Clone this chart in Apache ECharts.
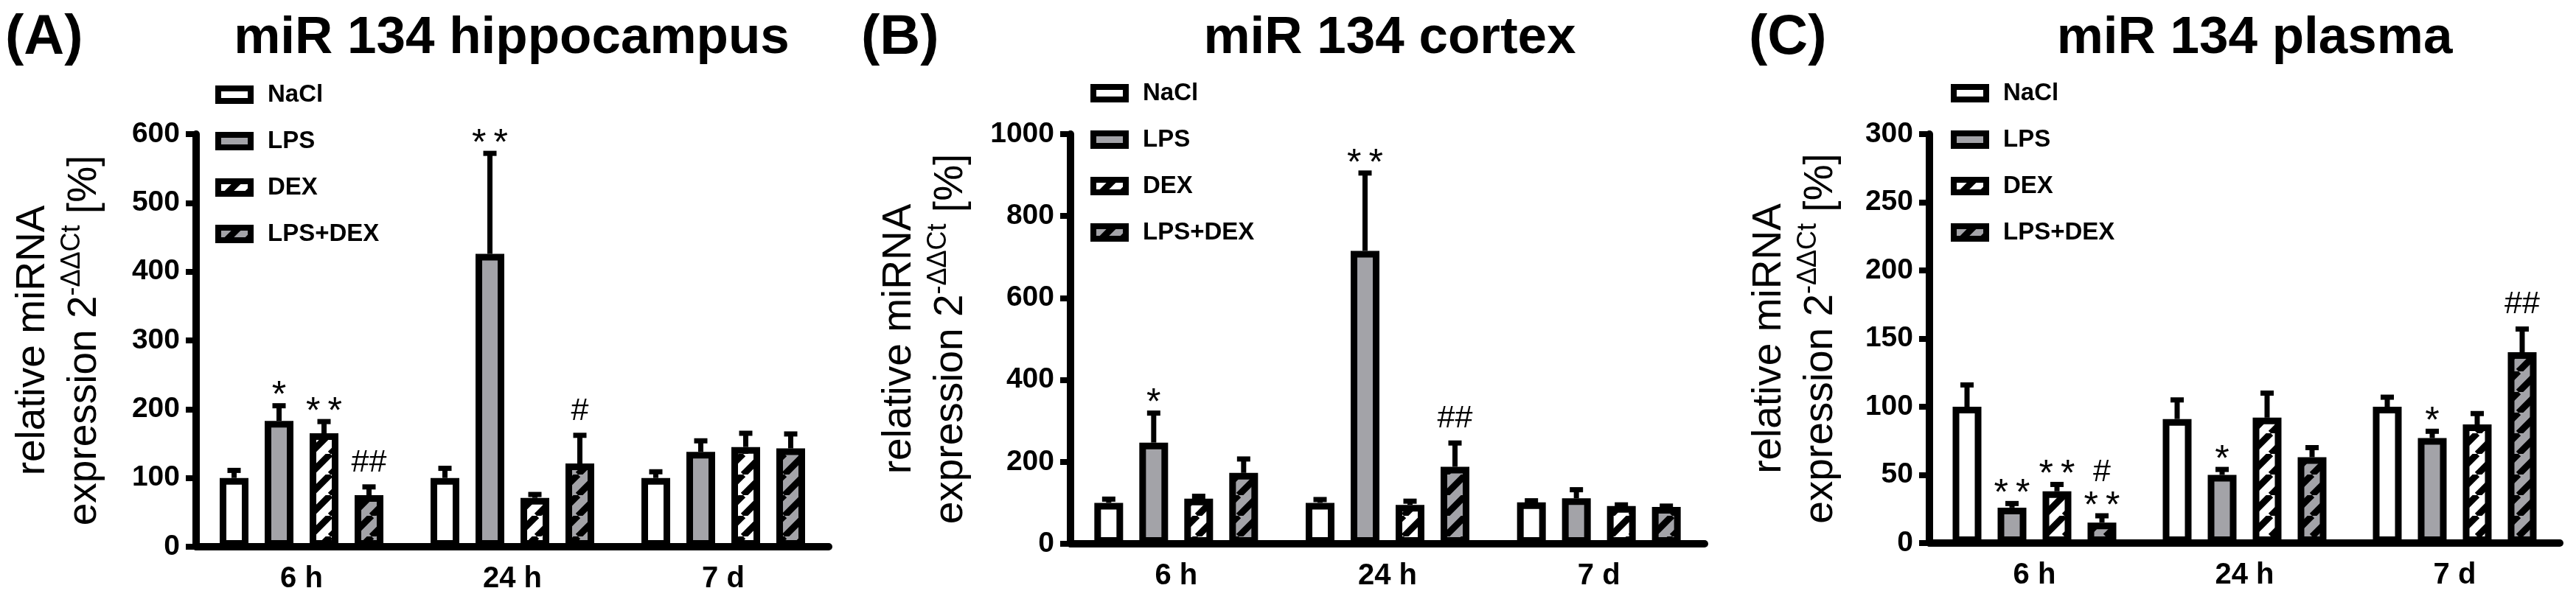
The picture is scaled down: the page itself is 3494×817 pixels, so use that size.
<!DOCTYPE html>
<html>
<head>
    <meta charset="utf-8">
    <title>miR 134</title>
    <script src="https://cdn.jsdelivr.net/npm/echarts@6/dist/echarts.min.js"></script>
    <style>
        html, body { margin: 0; padding: 0; background: #fff; }
        #chart { width: 3494px; height: 817px; }
    </style>
</head>
<body>
<div id="chart"></div>
<script>
    // categories
    var times = ['6 h', '24 h', '7 d'];
    var groups = ['NaCl', 'LPS', 'DEX', 'LPS+DEX'];

    // (A) hippocampus: mean and SEM per group
    var hipNaCl = [100, 100, 100], hipNaClErr = [11, 14, 9];
    var hipLPS = [183, 426, 138], hipLPSErr = [22, 146, 16];
    var hipDEX = [165, 71, 145], hipDEXErr = [17, 5, 20];
    var hipLPSDEX = [75, 121, 143], hipLPSDEXErr = [12, 41, 21];
    var hipStars = [['', '', ''], ['*', '**', ''], ['**', '', ''], ['', '', '']];
    var hipHash = [['', '', ''], ['', '', ''], ['', '', ''], ['##', '#', '']];

    // (B) cortex
    var ctxNaCl = [100, 100, 101], ctxNaClErr = [9, 8, 4];
    var ctxLPS = [247, 715, 111], ctxLPSErr = [72, 190, 21];
    var ctxDEX = [110, 95, 92], ctxDEXErr = [6, 9, 3];
    var ctxLPSDEX = [173, 188, 90], ctxLPSDEXErr = [34, 58, 2];
    var ctxStars = [['', '', ''], ['*', '**', ''], ['', '', ''], ['', '', '']];
    var ctxHash = [['', '', ''], ['', '', ''], ['', '', ''], ['', '##', '']];

    // (C) plasma
    var plaNaCl = [100, 91, 100], plaNaClErr = [16, 14, 7];
    var plaLPS = [26, 50, 77], plaLPSErr = [3, 4, 5];
    var plaDEX = [38, 92, 87], plaDEXErr = [5, 18, 8];
    var plaLPSDEX = [15, 63, 140], plaLPSDEXErr = [5, 7, 17];
    var plaStars = [['', '', ''], ['**', '*', '*'], ['**', '', ''], ['**', '', '']];
    var plaHash = [['', '', ''], ['', '', ''], ['', '', ''], ['#', '', '##']];

    // y axis ticks: min, max, step
    var hipTicks = [0, 600, 100];
    var ctxTicks = [0, 1000, 200];
    var plaTicks = [0, 300, 50];

    var FONT = '"Liberation Sans", Arial, sans-serif';
    var GRAY = '#a3a3a8';
    var BAR_W = 39, PITCH = 61;

    function stripes(bg) {
        var c = document.createElement('canvas');
        c.width = 28; c.height = 28;
        var g = c.getContext('2d');
        g.fillStyle = bg;
        g.fillRect(0, 0, 28, 28);
        g.strokeStyle = '#000';
        g.lineWidth = 9;
        g.beginPath();
        [-28, 0, 28].forEach(function (o) {
            g.moveTo(o, 28);
            g.lineTo(o + 28, 0);
        });
        g.stroke();
        return c;
    }

    var fills = [
        '#ffffff',
        GRAY,
        { image: stripes('#ffffff'), repeat: 'repeat' },
        { image: stripes(GRAY), repeat: 'repeat' }
    ];

    var panels = [
        { title: 'miR 134 hippocampus', letter: '(A)', letterX: 7, titleX: 694,
          grid: { left: 266, width: 858, top: 182, height: 560 }, ticks: hipTicks, nameGap: 116,
          means: [hipNaCl, hipLPS, hipDEX, hipLPSDEX], errs: [hipNaClErr, hipLPSErr, hipDEXErr, hipLPSDEXErr],
          stars: hipStars, hash: hipHash, legendLeft: 292, legendTop: 112 },
        { title: 'miR 134 cortex', letter: '(B)', letterX: 1168, titleX: 1885,
          grid: { left: 1452, width: 860, top: 182, height: 556 }, ticks: ctxTicks, nameGap: 127,
          means: [ctxNaCl, ctxLPS, ctxDEX, ctxLPSDEX], errs: [ctxNaClErr, ctxLPSErr, ctxDEXErr, ctxLPSDEXErr],
          stars: ctxStars, hash: ctxHash, legendLeft: 1479, legendTop: 110 },
        { title: 'miR 134 plasma', letter: '(C)', letterX: 2372, titleX: 3058,
          grid: { left: 2617, width: 855, top: 182, height: 555 }, ticks: plaTicks, nameGap: 112,
          means: [plaNaCl, plaLPS, plaDEX, plaLPSDEX], errs: [plaNaClErr, plaLPSErr, plaDEXErr, plaLPSDEXErr],
          stars: plaStars, hash: plaHash, legendLeft: 2646, legendTop: 110 }
    ];

    var option = {
        animation: false,
        backgroundColor: '#fff',
        grid: [], xAxis: [], yAxis: [], legend: [], series: [], graphic: []
    };

    panels.forEach(function (p, pi) {
        option.grid.push(p.grid);
        option.xAxis.push({
            type: 'category', gridIndex: pi, data: times,
            axisLine: { lineStyle: { color: '#000', width: 10 } },
            axisTick: { alignWithLabel: true, length: 15, lineStyle: { color: '#000', width: 7 } },
            axisLabel: { color: '#000', fontSize: 40, fontWeight: 'bold', fontFamily: FONT, margin: 24 }
        });
        option.yAxis.push({
            type: 'value', gridIndex: pi, min: p.ticks[0], max: p.ticks[1], interval: p.ticks[2],
            splitLine: { show: false },
            axisLine: { show: true, lineStyle: { color: '#000', width: 10 } },
            axisTick: { show: true, length: 14, lineStyle: { color: '#000', width: 8 } },
            axisLabel: { color: '#000', fontSize: 39, fontWeight: 'bold', fontFamily: FONT, margin: 22,
                formatter: function (v) { return String(v); } },
            name: 'relative miRNA\nexpression 2{s|-ΔΔCt} [%]',
            nameLocation: 'middle', nameRotate: 90, nameGap: p.nameGap,
            nameTextStyle: {
                color: '#000', fontSize: 55, fontFamily: FONT, lineHeight: 70,
                rich: { s: { fontSize: 36, fontFamily: FONT, color: '#000', lineHeight: 44, verticalAlign: 'top' } }
            }
        });
        option.legend.push({
            data: groups, orient: 'vertical', left: p.legendLeft, top: p.legendTop, padding: 0,
            icon: 'rect', itemWidth: 44, itemHeight: 17, itemGap: 30,
            selectedMode: false,
            itemStyle: { borderColor: '#000', borderWidth: 8 },
            textStyle: { color: '#000', fontSize: 33, fontWeight: 'bold', fontFamily: FONT, lineHeight: 24, padding: [0, 0, 0, 18] }
        });

        var rows = [];
        groups.forEach(function (name, g) {
            option.series.push({
                type: 'bar', name: name, xAxisIndex: pi, yAxisIndex: pi,
                data: p.means[g], barWidth: BAR_W, barGap: '56.4%',
                itemStyle: { color: fills[g], borderColor: '#000', borderWidth: 9 }
            });
            p.means[g].forEach(function (m, ci) {
                rows.push([ci, m, m + p.errs[g][ci], g, p.stars[g][ci], p.hash[g][ci]]);
            });
        });

        // error bars (upper SEM) and significance marks
        option.series.push({
            type: 'custom', xAxisIndex: pi, yAxisIndex: pi, z: 3,
            data: rows.map(function (r) { return r.slice(0, 4); }),
            renderItem: function (params, api) {
                var r = rows[params.dataIndex];
                var base = api.coord([r[0], r[1]]);
                var top = api.coord([r[0], r[2]]);
                var x = base[0] + (r[3] - 1.5) * PITCH;
                var ty = top[1];
                var kids = [
                    { type: 'line', shape: { x1: x, y1: base[1], x2: x, y2: ty }, style: { stroke: '#000', lineWidth: 7 } },
                    { type: 'line', shape: { x1: x - 9, y1: ty, x2: x + 9, y2: ty }, style: { stroke: '#000', lineWidth: 7 } }
                ];
                if (r[4]) {
                    kids.push({ type: 'text', style: { text: r[4].split('').join('\u2009'), x: x, y: ty - 12,
                        align: 'center', verticalAlign: 'middle', font: '50px ' + FONT, fill: '#000' } });
                }
                if (r[5]) {
                    kids.push({ type: 'text', style: { text: r[5], x: x, y: ty - (r[4] ? 59 : 33),
                        align: 'center', verticalAlign: 'middle', font: '43px ' + FONT, fill: '#000' } });
                }
                return { type: 'group', children: kids };
            }
        });

        option.graphic.push({
            type: 'text', left: p.letterX, top: 14,
            style: { text: p.letter, font: 'bold 76px ' + FONT, fill: '#000' }
        });
        option.graphic.push({
            type: 'text', x: p.titleX, y: 52,
            style: { text: p.title, font: 'bold 71px ' + FONT, fill: '#000', align: 'center', verticalAlign: 'middle' }
        });
    });

    var chart = echarts.init(document.getElementById('chart'));
    chart.setOption(option);
</script>
</body>
</html>
